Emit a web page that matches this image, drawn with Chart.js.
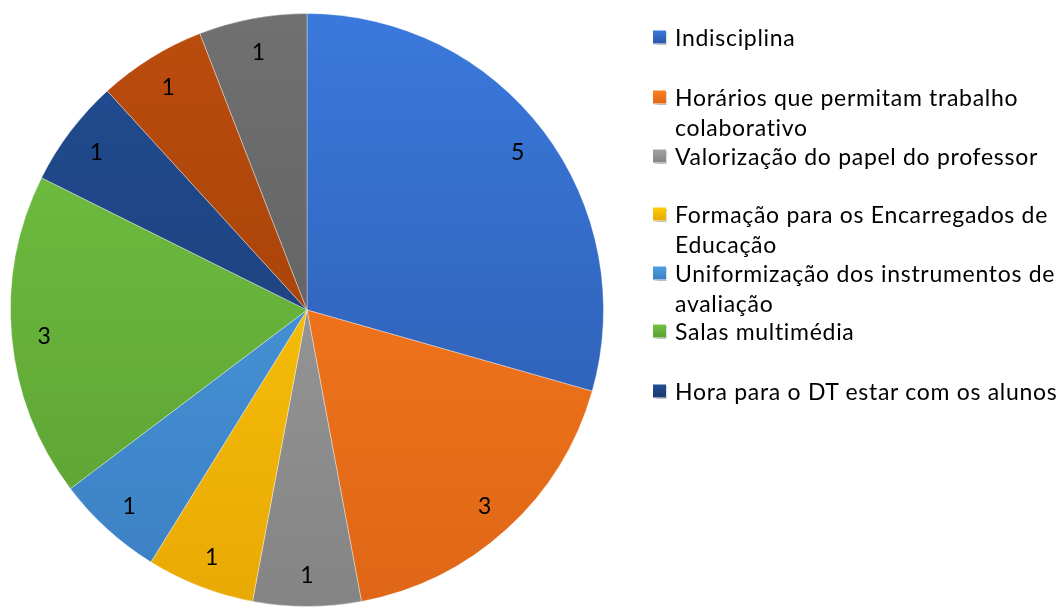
<!DOCTYPE html>
<html>
<head>
<meta charset="utf-8">
<script src="https://cdn.jsdelivr.net/npm/chart.js@4"></script>
<style>
  html, body { margin: 0; padding: 0; background: #fff; }
  #wrap { position: relative; width: 1064px; height: 608px; overflow: hidden; }
  #pieCanvas { position: absolute; left: 0; top: 0; }
  .lg { position: absolute; left: 675px; font-family: Lato, sans-serif; font-size: 23px; letter-spacing: 0.7px; color: #000; white-space: nowrap; line-height: 26px; transform: translateY(-50%); }
  .box { position: absolute; left: 653px; width: 13px; height: 13px; transform: translateY(-50%); box-shadow: 1px 1px 1px rgba(0,0,0,0.25); }
</style>
</head>
<body>
<div id="wrap">
  <canvas id="pieCanvas" width="1064" height="608"></canvas>
</div>
<script>
// slice data, clockwise from 12 o'clock
const labels = [
    'Indisciplina',
    'Horários que permitam trabalho colaborativo',
    'Valorização do papel do professor',
    'Formação para os Encarregados de Educação',
    'Uniformização dos instrumentos de avaliação',
    'Salas multimédia',
    'Hora para o DT estar com os alunos',
    '',
    ''
];
const values = [5, 3, 1, 1, 1, 3, 1, 1, 1];
const colorsTop = ['#3a79dc', '#ff7f20', '#a3a3a3', '#ffce0a', '#4da0e6', '#72c443', '#214d92', '#bb4c0d', '#707070'];
const colorsBottom = ['#2b57a8', '#de6616', '#848484', '#e9a905', '#3b7fc2', '#5b9f33', '#1b3a70', '#9a3d07', '#5a5a5a'];

// legend rows as they wrap in the picture (only the first 7 series are visible)
const legendLines = [
    ['Indisciplina'],
    ['Horários que permitam trabalho', 'colaborativo'],
    ['Valorização do papel do professor'],
    ['Formação para os Encarregados de', 'Educação'],
    ['Uniformização dos instrumentos de', 'avaliação'],
    ['Salas multimédia'],
    ['Hora para o DT estar com os alunos']
];
const legendY = [37, 97, 156, 214, 273, 331, 391];

const canvas = document.getElementById('pieCanvas');
const ctx = canvas.getContext('2d');

function sliceGradient(context) {
    const chart = context.chart;
    const area = chart.chartArea;
    if (!area) return colorsTop[context.dataIndex];
    const g = chart.ctx.createLinearGradient(0, area.top, 0, area.bottom);
    g.addColorStop(0, colorsTop[context.dataIndex]);
    g.addColorStop(1, colorsBottom[context.dataIndex]);
    return g;
}

// draws the value on each slice
const valueLabels = {
    id: 'valueLabels',
    afterDatasetsDraw(chart) {
        const meta = chart.getDatasetMeta(0);
        const c = chart.ctx;
        c.save();
        c.font = '23px Lato, sans-serif';
        c.fillStyle = '#000';
        c.textAlign = 'center';
        c.textBaseline = 'middle';
        meta.data.forEach((arc, i) => {
            const mid = (arc.startAngle + arc.endAngle) / 2;
            const r = arc.outerRadius * 0.89;
            c.fillText(String(values[i]), arc.x + Math.cos(mid) * r, arc.y + Math.sin(mid) * r + 2);
        });
        c.restore();
    }
};

new Chart(ctx, {
    type: 'pie',
    data: {
        labels: labels,
        datasets: [{
            data: values,
            backgroundColor: sliceGradient,
            borderColor: 'rgba(255,255,255,0.35)',
            borderWidth: 1
        }]
    },
    options: {
        responsive: false,
        animation: false,
        layout: { padding: { left: 10, right: 460, top: 13, bottom: 1 } },
        plugins: {
            legend: { display: false },
            tooltip: { enabled: false }
        }
    },
    plugins: [valueLabels]
});

// legend
const wrap = document.getElementById('wrap');
legendLines.forEach((lines, i) => {
    const box = document.createElement('div');
    box.className = 'box';
    box.style.top = legendY[i] + 'px';
    box.style.background = `linear-gradient(${colorsTop[i]}, ${colorsBottom[i]})`;
    wrap.appendChild(box);
    lines.forEach((t, j) => {
        const d = document.createElement('div');
        d.className = 'lg';
        d.style.top = (legendY[i] + j * 29.5) + 'px';
        d.textContent = t;
        wrap.appendChild(d);
    });
});
</script>
</body>
</html>
